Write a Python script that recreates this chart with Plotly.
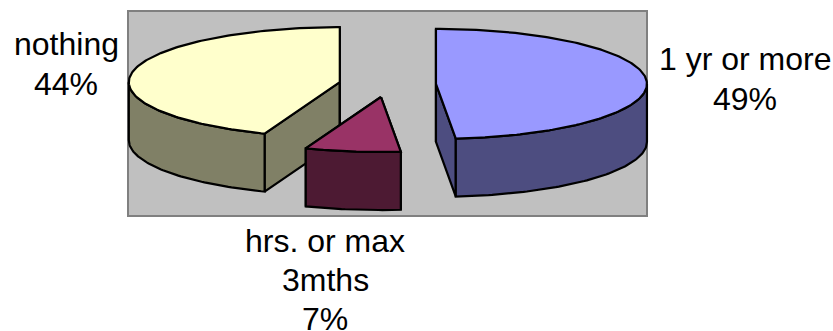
import math
import plotly.graph_objects as go

# Survey shares, with the share text derived from the same numbers
categories = ["nothing", "1 yr or more", "hrs. or max 3mths"]
values = [44.2, 48.5, 7.3]
label_lines = [["nothing"], ["1 yr or more"], ["hrs. or max", "3mths"]]
top_colors = ["#FFFFCC", "#9999FF", "#993366"]
side_colors = ["#808066", "#4D4D80", "#4D1A33"]

# Drawing order and clockwise order differ: slices start at 12 o'clock
clockwise = [1, 2, 0]
paint_order = [0, 1, 2]

# Pie geometry in canvas pixels
CX, CY = 387.5, 84.5
RX, RY = 211.0, 55.0
EXPLODE = 48.5
DEPTH = 58.0
LINE = dict(color="black", width=2.2)

# Label anchors: centre x, first line y, line step
label_pos = {0: (66, 44, 40), 1: (745, 59, 40), 2: (325, 241, 39)}
FONT = dict(family="Liberation Sans, Arial, sans-serif", size=32, color="black")


def at(center, deg, drop=0.0, radius=1.0):
    a = math.radians(deg)
    return (center[0] + radius * RX * math.sin(a),
            center[1] - radius * RY * math.cos(a) + drop)


def arc(center, start, stop, drop=0.0, step=1.0):
    n = max(2, int(abs(stop - start) / step) + 1)
    return [at(center, start + (stop - start) * i / (n - 1), drop) for i in range(n)]


def face(points, color):
    xs, ys = zip(*points)
    return go.Scatter(x=list(xs) + [xs[0]], y=list(ys) + [ys[0]], mode="lines",
                      fill="toself", fillcolor=color, line=LINE,
                      hoverinfo="skip", showlegend=False)


# Angular extent of each slice
spans = {}
angle = 0.0
for i in clockwise:
    spans[i] = (angle, angle + values[i] * 3.6)
    angle = spans[i][1]

fig = go.Figure()

for i in paint_order:
    start, stop = spans[i]
    mid = (start + stop) / 2
    center = at((CX, CY), mid, radius=EXPLODE / RX)

    # Cut faces first, so the rim and top cover whichever are hidden
    for edge in (start, stop):
        rim = at(center, edge)
        rim_low = at(center, edge, DEPTH)
        fig.add_trace(face([center, rim, rim_low,
                            (center[0], center[1] + DEPTH)], side_colors[i]))

    # Outer wall: only the front half of the ellipse shows
    front_start, front_stop = max(start, 90.0), min(stop, 270.0)
    if front_stop > front_start:
        upper = arc(center, front_start, front_stop)
        lower = arc(center, front_stop, front_start, DEPTH)
        fig.add_trace(face(upper + lower, side_colors[i]))

    # Top surface
    fig.add_trace(face([center] + arc(center, start, stop), top_colors[i]))

# Slice labels, one annotation per text line
for i, lines in enumerate(label_lines):
    x, y, dy = label_pos[i]
    for k, text in enumerate(lines + [f"{int(values[i] + 0.5)}%"]):
        fig.add_annotation(x=x, y=y + k * dy, text=text, showarrow=False,
                           xanchor="center", yanchor="middle", font=FONT)

fig.update_layout(
    width=833, height=331,
    margin=dict(l=0, r=0, t=0, b=0),
    paper_bgcolor="white", plot_bgcolor="white",
    showlegend=False,
    xaxis=dict(range=[0, 833], visible=False, fixedrange=True),
    yaxis=dict(range=[331, 0], visible=False, fixedrange=True),
    shapes=[dict(type="rect", xref="x", yref="y", x0=128, x1=647, y0=11, y1=216,
                 fillcolor="#C0C0C0", line=dict(color="#808080", width=2),
                 layer="below")],
)

fig.write_html("out.html", config={"displayModeBar": False})
